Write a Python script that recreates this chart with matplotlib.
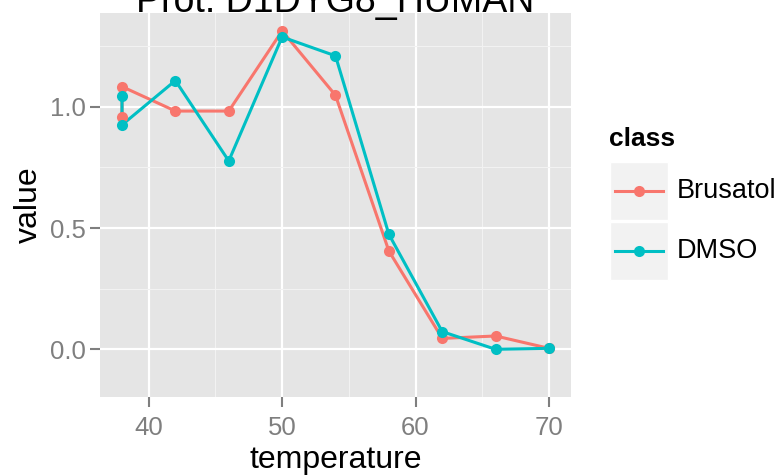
"""Melting curve of one protein, Brusatol vs DMSO, ggplot grey style."""
import matplotlib
matplotlib.use('Agg')
import matplotlib.pyplot as plt
from matplotlib.lines import Line2D
from matplotlib.patches import Rectangle

plt.rcParams['font.family'] = ['Liberation Sans', 'DejaVu Sans']

TITLE = 'Prot: D1DYG8_HUMAN'
CLASSES = ['Brusatol', 'DMSO']
COLORS = ['#F8766D', '#00BFC4']

temp_brusatol = [38, 38, 42, 46, 50, 54, 58, 62, 66, 70]
val_brusatol = [0.96, 1.084, 0.983, 0.983, 1.314, 1.048, 0.405, 0.044, 0.054, 0.003]
temp_dmso = [38, 38, 42, 46, 50, 54, 58, 62, 66, 70]
val_dmso = [1.045, 0.926, 1.109, 0.777, 1.289, 1.211, 0.474, 0.072, -0.001, 0.003]

X_TICKS = [40, 50, 60, 70]
Y_TICKS = [0.0, 0.5, 1.0]

W, H = 779, 476
fig = plt.figure(figsize=(W / 100, H / 100), dpi=100)


def box(x0, y0, x1, y1):
    """pixel box (top-left origin) -> figure fraction rect"""
    return [x0 / W, 1 - y1 / H, (x1 - x0) / W, (y1 - y0) / H]


ax = fig.add_axes(box(100, 13, 571, 397))
ax.set_facecolor('#E5E5E5')
for s in ax.spines.values():
    s.set_visible(False)

ax.set_xlim(36.35, 71.65)
ax.set_ylim(-0.198, 1.388)
ax.set_xticks(X_TICKS)
ax.set_yticks(Y_TICKS)
ax.set_yticklabels([f'{v:.1f}' for v in Y_TICKS])
ax.set_xticks([45, 55, 65], minor=True)
ax.set_yticks([0.25, 0.75, 1.25], minor=True)
ax.grid(which='major', color='white', linewidth=1.6)
ax.grid(which='minor', color='#F2F2F2', linewidth=0.8)
ax.set_axisbelow(True)
ax.tick_params(which='major', length=7.5, width=1.5, color='#7F7F7F',
               labelcolor='#7F7F7F', labelsize=18.5, pad=3)
ax.tick_params(axis='x', which='major', pad=6)
ax.tick_params(which='minor', length=0)

for xs, ys, c in [(temp_brusatol, val_brusatol, COLORS[0]),
                  (temp_dmso, val_dmso, COLORS[1])]:
    ax.plot(xs, ys, '-', color=c, linewidth=2.2, zorder=3)
    ax.plot(xs, ys, 'o', color=c, markersize=8, markeredgewidth=0, zorder=4)

ax.set_xlabel('temperature', fontsize=23, labelpad=4)
ax.set_ylabel('value', fontsize=23, labelpad=4)

fig.text(335 / W, 1 - 12 / H, TITLE, ha='center', va='baseline', fontsize=27)

# legend drawn by hand to mimic ggplot keys
fig.text(609 / W, 1 - 146 / H, 'class', fontsize=19, fontweight='bold',
         ha='left', va='baseline')
for i, (name, c) in enumerate(zip(CLASSES, COLORS)):
    top = 162 + i * 60
    fig.patches.append(Rectangle((610 / W, 1 - (top + 58) / H), 58 / W, 58 / H,
                                 transform=fig.transFigure, facecolor='#F2F2F2',
                                 edgecolor='white', linewidth=1))
    yc = 1 - (top + 29) / H
    fig.lines.append(Line2D([615 / W, 663 / W], [yc, yc], transform=fig.transFigure,
                            color=c, linewidth=2.2))
    fig.lines.append(Line2D([639 / W], [yc], transform=fig.transFigure, color=c,
                            marker='o', markersize=8, markeredgewidth=0))
    fig.text(677 / W, yc, name, fontsize=19.5, ha='left', va='center')

fig.savefig('out.png', dpi=100)
